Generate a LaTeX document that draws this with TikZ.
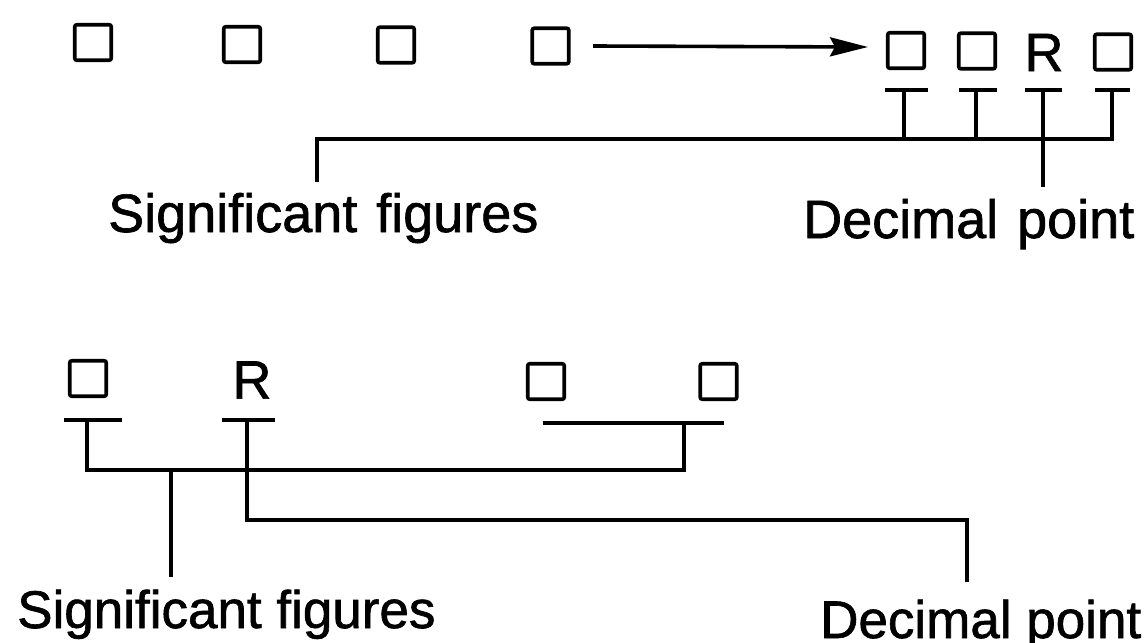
\documentclass[tikz,border=0pt]{standalone}
\usepackage{fontspec}
\setmainfont{Liberation Sans}[FakeBold=1.2]
\usetikzlibrary{arrows.meta}

\tikzset{
  digit/.style={draw, line width=3.6pt, minimum width=36.5pt, minimum height=35.5pt,
                inner sep=0pt, rounded corners=2pt},
  radix/.style={inner sep=0pt, font=\fontsize{54}{60}\selectfont},
  wire/.style={line width=3.6pt},
  biglbl/.style={inner sep=0pt, anchor=base west, font=\fontsize{54}{60}\selectfont},
  lbl/.style={inner sep=0pt, anchor=base west, font=\fontsize{53}{60}\selectfont},
}

\begin{document}
\begin{tikzpicture}[x=1pt, y=-1pt]
  \useasboundingbox (0,0) rectangle (1147,642);

  % ---------- upper example: digits shifted right ----------
  \node[digit] (t1) at (93,42.5) {};
  \node[digit] (t2) at (242,44.5) {};
  \node[digit] (t3) at (396,45) {};
  \node[digit] (t4) at (550.5,46) {};
  \node[digit] (t5) at (906,50.5) {};
  \node[digit] (t6) at (977,51) {};
  \node[radix] (tR) at (1044,52.5) {R};
  \node[digit] (t8) at (1113,52) {};

  \coordinate (arrS) at (593,46);
  \coordinate (arrE) at (868,47);
  \draw[wire, -{Stealth[length=38pt, width=19pt, inset=5pt]}] (arrS) -- (arrE);

  % bars under the shifted digits
  \foreach \l/\r/\c/\n in {885/928/904/5, 959/997/976/6, 1025/1062/1043/R, 1095/1130/1112/8} {
    \coordinate (bl\n) at (\l,90);
    \coordinate (br\n) at (\r,90);
    \coordinate (bs\n) at (\c,90);
    \draw[wire] (bl\n) -- (br\n);
  }
  \coordinate (jL) at (317,139);
  \coordinate (jR) at (1112,139);
  \coordinate (sigTop) at (317,182);
  \coordinate (decTop) at (1043,187);
  \draw[wire] (bs5) -- (bs5 |- jL);
  \draw[wire] (bs6) -- (bs6 |- jL);
  \draw[wire] (bs8) -- (jR) -- (jL) -- (sigTop);
  \draw[wire] (bsR) -- (decTop);

  \node[biglbl] (sig1) at (108,232) {Significant\hspace{4pt} figures};
  \node[biglbl] (dec1) at (803,238) {Decimal\hspace{4pt} point};

  % ---------- lower example: digits spread apart ----------
  \node[digit] (u1) at (88,378.5) {};
  \node[radix] (uR) at (252,380) {R};
  \node[digit] (u3) at (546,381.5) {};
  \node[digit] (u4) at (718.5,381.5) {};

  \coordinate (ua1) at (64,420);  \coordinate (ua2) at (122,420);
  \coordinate (ur1) at (222,420); \coordinate (ur2) at (275,420);
  \coordinate (uc1) at (543,423); \coordinate (uc2) at (724,423);
  \draw[wire] (ua1) -- (ua2);
  \draw[wire] (ur1) -- (ur2);
  \draw[wire] (uc1) -- (uc2);

  \coordinate (sa) at (87,420);
  \coordinate (sc) at (684,423);
  \coordinate (sr) at (247,420);
  \coordinate (k1) at (87,470);
  \coordinate (k2) at (684,470);
  \coordinate (kSig) at (171,470);
  \coordinate (sig2Top) at (171,577);
  \coordinate (m1) at (247,520);
  \coordinate (m2) at (967,520);
  \coordinate (dec2Top) at (967,582);

  \draw[wire] (sa) -- (k1) -- (k2) -- (sc);
  \draw[wire] (kSig) -- (sig2Top);
  \draw[wire] (sr) -- (m1) -- (m2) -- (dec2Top);

  \node[lbl] (sig2) at (17,628) {Significant figures};
  \node[lbl] (dec2) at (820,638) {Decimal point};
\end{tikzpicture}
\end{document}
